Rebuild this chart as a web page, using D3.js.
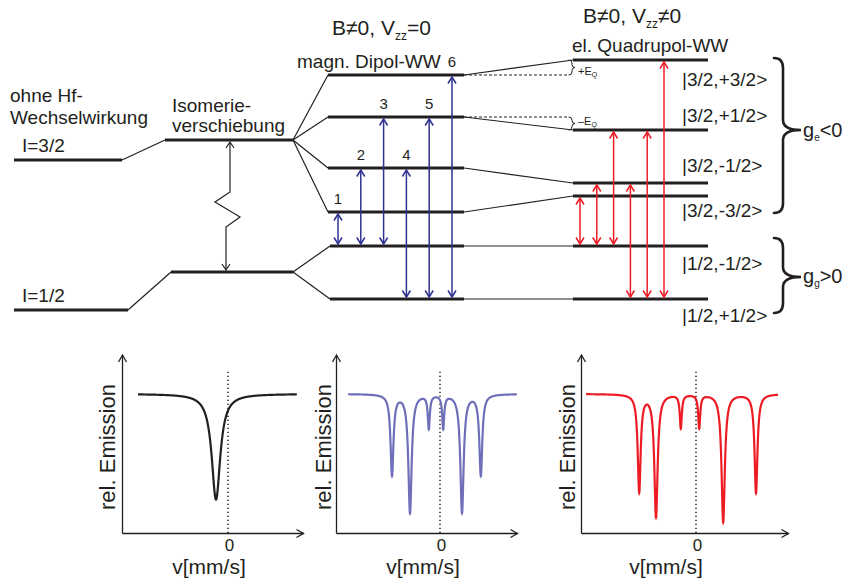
<!DOCTYPE html>
<html>
<head>
<meta charset="utf-8">
<script src="https://cdn.jsdelivr.net/npm/d3@7"></script>
<style>
body { margin: 0; background: #fff; }
svg text { font-family: "Liberation Sans", Arial, sans-serif; fill: #231f20; }
</style>
</head>
<body>
<script>
var width = 843, height = 584;

// level energies in arbitrary units (bigger = higher)
var freeLevels = [16.0, 1.0];                 // I=3/2, I=1/2 ohne Hf
var isomerLevels = [18.0, 4.8];               // nach Isomerieverschiebung
var magnExcited = [24.5, 20.3, 15.2, 10.8];   // m = +3/2, +1/2, -1/2, -3/2
var magnGround = [7.4, 2.1];                  // m = -1/2, +1/2
var quadExcited = [26.0, 19.0, 13.7, 12.4];
var quadGround = [7.4, 2.1];

// the six allowed transitions: excited index -> ground index
var lineNumbers = [1, 2, 3, 4, 5, 6];
var transExc = [3, 2, 1, 2, 1, 0];
var transGnd = [0, 0, 0, 1, 1, 1];

var stateLabels = ["|3/2,+3/2>", "|3/2,+1/2>", "|3/2,-1/2>", "|3/2,-3/2>", "|1/2,-1/2>", "|1/2,+1/2>"];

// spectra: line positions (mm/s), depth, half width
var isoPeakV = [-1.5];
var isoPeakDepth = [0.76];
var isoPeakWidth = [0.65];
var magnPeakV = [-6.0, -3.75, -1.4, 0.4, 2.75, 5.1];
var magnPeakDepth = [0.58, 0.85, 0.24, 0.24, 0.85, 0.58];
var magnPeakWidth = [0.22, 0.25, 0.15, 0.15, 0.25, 0.22];
var quadPeakV = [-7.1, -5.0, -1.9, 0.4, 3.4, 7.5];
var quadPeakDepth = [0.70, 0.88, 0.24, 0.24, 0.92, 0.71];
var quadPeakWidth = [0.22, 0.25, 0.15, 0.15, 0.25, 0.22];

var ink = "#231f20", blue = "#2e3192", red = "#ed1c24", lilac = "#6e6eb9";

var svg = d3.select("body").append("svg").attr("width", width).attr("height", height);

var yE = d3.scaleLinear().domain([0, 26]).range([320, 60]);

function seg(x0, y0, x1, y1, w, col, dash) {
    var l = svg.append("line")
        .attr("x1", x0).attr("y1", y0).attr("x2", x1).attr("y2", y1)
        .attr("stroke", col || ink).attr("stroke-width", w);
    if (dash) l.attr("stroke-dasharray", dash);
    return l;
}

function chevron(x, y, dir, col, hw, len, sw) {
    // dir: "up", "down", "right"
    var pts;
    if (dir == "up") pts = [[x - hw, y + len], [x, y], [x + hw, y + len]];
    else if (dir == "down") pts = [[x - hw, y - len], [x, y], [x + hw, y - len]];
    else pts = [[x - len, y - hw], [x, y], [x - len, y + hw]];
    svg.append("path").attr("d", d3.line()(pts))
        .attr("fill", "none").attr("stroke", col).attr("stroke-width", sw);
}

function dblArrow(x, y0, y1, col) {
    seg(x, y0, x, y1, 1.5, col);
    chevron(x, y0, "up", col, 4, 6.5, 1.5);
    chevron(x, y1, "down", col, 4, 6.5, 1.5);
}

function brace(x, y0, y1, ym, s, t, r, sw) {
    var p = "M" + x + "," + y0 +
        " Q" + (x + s) + "," + y0 + " " + (x + s) + "," + (y0 + r) +
        " L" + (x + s) + "," + (ym - r) +
        " Q" + (x + s) + "," + ym + " " + (x + t) + "," + ym +
        " Q" + (x + s) + "," + ym + " " + (x + s) + "," + (ym + r) +
        " L" + (x + s) + "," + (y1 - r) +
        " Q" + (x + s) + "," + y1 + " " + x + "," + y1;
    svg.append("path").attr("d", p).attr("fill", "none")
        .attr("stroke", ink).attr("stroke-width", sw).attr("stroke-linecap", "round");
}

function label(x, y, txt, size, anchor) {
    return svg.append("text").attr("x", x).attr("y", y)
        .attr("font-size", size).attr("text-anchor", anchor || "start").text(txt);
}

// ---------- level scheme ----------
var col0 = [14, 122], col0g = [14, 128];
var col1 = [165, 293], col1g = [171, 293];
var col2 = [328, 464], col2g = [330, 464];
var col3 = [573, 708];
var thick = 3, thin = 1.2;

// ohne Hf
seg(col0[0], yE(freeLevels[0]), col0[1], yE(freeLevels[0]), thick);
seg(col0g[0], yE(freeLevels[1]), col0g[1], yE(freeLevels[1]), thick);
seg(col0[1], yE(freeLevels[0]), col1[0], yE(isomerLevels[0]), thin);
seg(col0g[1], yE(freeLevels[1]), col1g[0], yE(isomerLevels[1]), thin);

// Isomerieverschiebung
seg(col1[0], yE(isomerLevels[0]), col1[1], yE(isomerLevels[0]), thick);
seg(col1g[0], yE(isomerLevels[1]), col1g[1], yE(isomerLevels[1]), thick);

// zigzag arrow for the isomer shift
var zTop = yE(isomerLevels[0]) + 2, zBot = yE(isomerLevels[1]) - 2;
svg.append("path")
    .attr("d", d3.line()([[230, zTop], [230, 192], [215, 202], [240, 217], [226, 227], [226, zBot]]))
    .attr("fill", "none").attr("stroke", ink).attr("stroke-width", 1.2);
chevron(230, zTop, "up", ink, 4, 6, 1.2);
chevron(226, zBot, "down", ink, 4, 6, 1.2);

// magnetic splitting
magnExcited.forEach(function(e) {
    seg(col1[1], yE(isomerLevels[0]), col2[0], yE(e), thin);
    seg(col2[0], yE(e), col2[1], yE(e), thick);
});
magnGround.forEach(function(e) {
    seg(col1g[1], yE(isomerLevels[1]), col2g[0], yE(e), thin);
    seg(col2g[0], yE(e), col2g[1], yE(e), thick);
});

// to quadrupole column
magnExcited.forEach(function(e, i) {
    seg(col2[1], yE(e), col3[0], yE(quadExcited[i]), thin);
});
magnGround.forEach(function(e, i) {
    seg(col2g[1], yE(e), col3[0], yE(quadGround[i]), thin);
});
quadExcited.concat(quadGround).forEach(function(e) {
    seg(col3[0], yE(e), col3[1], yE(e), thick);
});

// E_Q shifts, dashed reference + small braces
var eqText = ["+E", "\u2013E"], eqDy = [7, 1];
[0, 1].forEach(function(i) {
    var ya = yE(magnExcited[i]), yb = yE(quadExcited[i]);
    seg(col2[1], ya, 568, ya, 1.1, ink, "3,2");
    brace(569, Math.min(ya, yb), Math.max(ya, yb), (ya + yb) / 2, 3, 6, 3, 1);
    var t = label(578, (ya + yb) / 2 + eqDy[i], eqText[i], 11);
    t.append("tspan").attr("font-size", 7).attr("dy", 2).text("Q");
});

// transitions
var xMagn = d3.scalePoint().domain(lineNumbers).range([338, 452]);
var xQuad = d3.scalePoint().domain(lineNumbers).range([580, 664]);
lineNumbers.forEach(function(n, k) {
    var ye = yE(magnExcited[transExc[k]]), yg = yE(magnGround[transGnd[k]]);
    dblArrow(xMagn(n), ye + 2, yg - 2, blue);
    label(xMagn(n), ye - 8, n, 15, "middle");
    var qe = yE(quadExcited[transExc[k]]), qg = yE(quadGround[transGnd[k]]);
    dblArrow(xQuad(n), qe + 2, qg - 2, red);
});

// state labels
var stateDy = [26, -8, -11, 21, 24, 23];
quadExcited.concat(quadGround).forEach(function(e, i) {
    label(682, yE(e) + stateDy[i], stateLabels[i], 19);
});

// big braces
brace(774, yE(quadExcited[0]) - 2, 213, 130, 9, 27, 10, 2.6);
brace(774, 238, 313, 277, 9, 27, 10, 2.6);
var ge = label(803, 137, "g", 20);
ge.append("tspan").attr("font-size", 10).attr("dy", 4).text("e");
ge.append("tspan").attr("dy", -4).text("<0");
var gg = label(803, 283, "g", 20);
gg.append("tspan").attr("font-size", 10).attr("dy", 4).text("g");
gg.append("tspan").attr("dy", -4).text(">0");

// texts
label(10, 102, "ohne Hf-", 19);
label(10, 124, "Wechselwirkung", 19);
label(22, 152, "I=3/2", 19);
label(22, 302, "I=1/2", 19);
label(172, 112, "Isomerie-", 19);
label(172, 132, "verschiebung", 19);
label(297, 68, "magn. Dipol-WW", 19);
label(572, 52, "el. Quadrupol-WW", 19);

var t1 = label(332, 35, "B\u22600, V", 21);
t1.append("tspan").attr("font-size", 12).attr("dy", 5).text("zz");
t1.append("tspan").attr("dy", -5).text("=0");
var t2 = label(583, 23, "B\u22600, V", 21);
t2.append("tspan").attr("font-size", 12).attr("dy", 5).text("zz");
t2.append("tspan").attr("dy", -5).text("\u22600");

// ---------- spectra ----------
var specY = d3.scaleLinear().domain([0, 1.28]).range([533, 355]);

var panels = [
    {axis: [122, 303], dom: [-13.25, 9.375], span: [-11.25, 8.6], pos: isoPeakV, depth: isoPeakDepth, gam: isoPeakWidth, color: ink, labX: 209, relDx: 7},
    {axis: [336, 517], dom: [-13, 9.625], span: [-11.5, 9.6], pos: magnPeakV, depth: magnPeakDepth, gam: magnPeakWidth, color: lilac, labX: 423, relDx: 5},
    {axis: [581, 788], dom: [-14.375, 11.5], span: [-13.75, 10.25], pos: quadPeakV, depth: quadPeakDepth, gam: quadPeakWidth, color: red, labX: 666, relDx: 6}
];

function emission(v, p) {
    var s = 1;
    for (var i = 0; i < p.pos.length; i++) {
        var g2 = p.gam[i] * p.gam[i];
        s -= p.depth[i] * g2 / ((v - p.pos[i]) * (v - p.pos[i]) + g2);
    }
    return s;
}

panels.forEach(function(p) {
    var x = d3.scaleLinear().domain(p.dom).range(p.axis);

    var gx = svg.append("g").attr("transform", "translate(0," + specY(0) + ")")
        .call(d3.axisBottom(x).tickValues([0]).tickSize(0).tickSizeOuter(0).tickPadding(6));
    gx.attr("font-family", null);
    gx.select(".domain").attr("stroke", ink).attr("stroke-width", 1.3);
    gx.selectAll("text").attr("font-size", 17).attr("dx", 1);

    var gy = svg.append("g").attr("transform", "translate(" + p.axis[0] + ",0)")
        .call(d3.axisLeft(specY).tickValues([]).tickSizeOuter(0));
    gy.select(".domain").attr("stroke", ink).attr("stroke-width", 1.3);

    chevron(p.axis[0] + 0.5, specY(1.28), "up", ink, 4, 7, 1.3);
    chevron(p.axis[1] + 0.5, specY(0) + 0.5, "right", ink, 4, 7, 1.3);

    // zero velocity
    seg(x(0), specY(0), x(0), specY(1.17), 1.5, ink, "1.3,2.7");

    var vs = d3.range(p.span[0], p.span[1], 0.01).concat([p.span[1]]);
    svg.append("path")
        .attr("d", d3.line().x(function(v) { return x(v); }).y(function(v) { return specY(emission(v, p)); })(vs))
        .attr("fill", "none").attr("stroke", p.color).attr("stroke-width", 2.2);

    svg.append("text")
        .attr("transform", "translate(" + (p.axis[0] - p.relDx) + ",447) rotate(-90)")
        .attr("font-size", 22).attr("text-anchor", "middle").text("rel. Emission");
    label(p.labX, 574, "v[mm/s]", 21, "middle");
});
</script>
</body>
</html>
